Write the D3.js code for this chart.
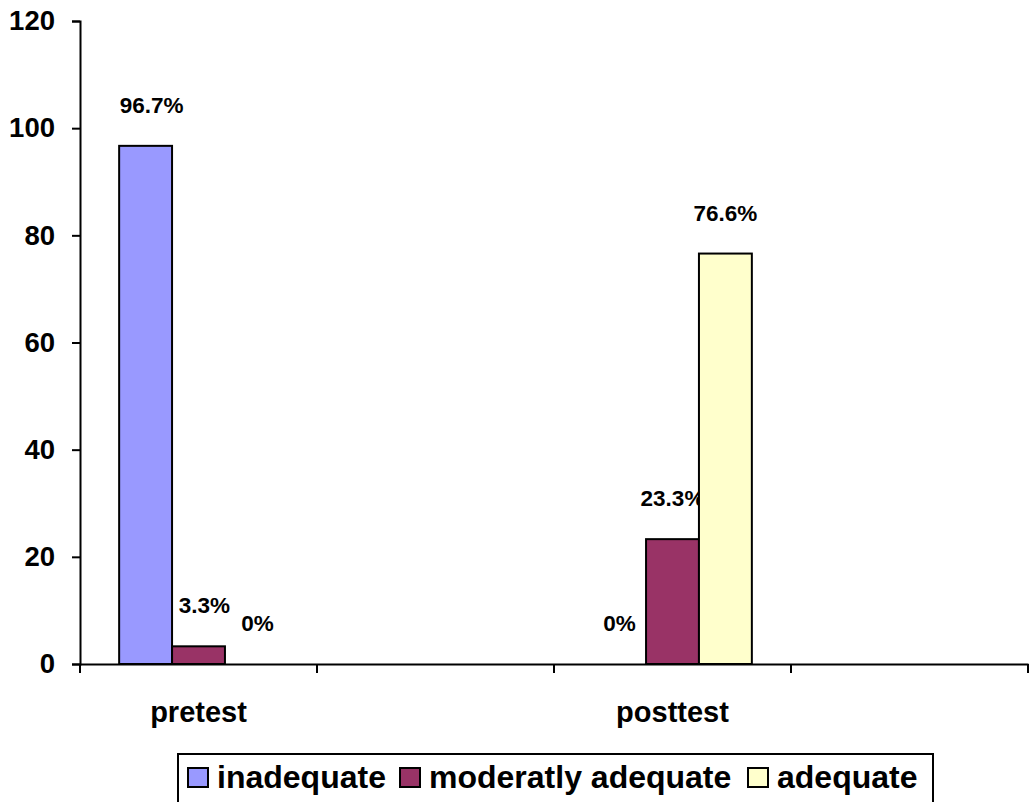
<!DOCTYPE html>
<html>
<head>
<meta charset="utf-8">
<script src="https://cdn.jsdelivr.net/npm/d3@7"></script>
<style>
  html, body { margin: 0; padding: 0; background: #fff; }
  svg { display: block; font-family: "Liberation Sans", Arial, sans-serif; font-weight: bold; }
</style>
</head>
<body>
<svg id="chart" width="1029" height="802"></svg>
<script>
// ---- data ----
const categories = ["pretest", "", "posttest", ""];
const seriesNames = ["inadequate", "moderatly adequate", "adequate"];
const inadequate = [96.7, null, 0, null];
const moderatlyAdequate = [3.3, null, 23.3, null];
const adequate = [0, null, 76.6, null];
const dataLabels = [["96.7%", "3.3%", "0%"], [], ["0%", "23.3%", "76.6%"], []];
const yTicks = [0, 20, 40, 60, 80, 100, 120];
const colors = ["#9999FF", "#993366", "#FFFFCC"];

const seriesValues = [inadequate, moderatlyAdequate, adequate];

const svg = d3.select("#chart");

const x0 = d3.scaleBand().domain(d3.range(categories.length)).range([80, 1028]).paddingInner(0).paddingOuter(0);
const x1 = d3.scaleBand().domain(d3.range(seriesNames.length)).range([0, x0.bandwidth()]).paddingInner(0).paddingOuter(0.74);
const y = d3.scaleLinear().domain([0, 120]).range([664, 21]);

// bars
categories.forEach((c, ci) => {
  seriesValues.forEach((vals, si) => {
    const v = vals[ci];
    if (v === null || v === undefined) return;
    const bx = x0(ci) + x1(si);
    if (v > 0) {
      svg.append("rect")
        .attr("x", bx)
        .attr("y", y(v))
        .attr("width", x1.bandwidth())
        .attr("height", y(0) - y(v))
        .attr("fill", colors[si])
        .attr("stroke", "#000")
        .attr("stroke-width", 2);
    }
    const lbl = dataLabels[ci][si];
    if (lbl) {
      svg.append("text")
        .attr("x", bx + x1.bandwidth() / 2 + (ci === 0 ? 6 : 0))
        .attr("y", y(v) - 33)
        .attr("text-anchor", "middle")
        .attr("font-size", 22.5)
        .attr("fill", "#000")
        .text(lbl);
    }
  });
});

// y axis
const yAxis = d3.axisLeft(y).tickValues(yTicks).tickSize(8).tickPadding(17).tickFormat(d3.format("d"));
const gy = svg.append("g").attr("transform", "translate(80,0)").call(yAxis);
gy.select(".domain").attr("stroke", "#000").attr("stroke-width", 2);
gy.selectAll(".tick line").attr("stroke", "#000").attr("stroke-width", 2);
gy.selectAll(".tick text").attr("font-size", 27.5).attr("font-family", "Liberation Sans, Arial, sans-serif").attr("font-weight", "bold").attr("fill", "#000");

// x axis
const xAxis = d3.axisBottom(x0).tickSize(0).tickFormat(i => categories[i]).tickPadding(37);
const gx = svg.append("g").attr("transform", "translate(0,664)").call(xAxis);
gx.select(".domain").attr("stroke", "#000").attr("stroke-width", 2);
gx.selectAll(".tick text").attr("font-size", 29).attr("font-family", "Liberation Sans, Arial, sans-serif").attr("font-weight", "bold").attr("fill", "#000");
// category boundary ticks
const boundaries = d3.range(categories.length + 1).map(i => i < categories.length ? x0(i) : x0.range()[1]);
gx.selectAll(".bound").data(boundaries).enter().append("line")
  .attr("x1", d => d).attr("x2", d => d)
  .attr("y1", 0).attr("y2", 9)
  .attr("stroke", "#000").attr("stroke-width", 2);

// legend
const lg = svg.append("g");
lg.append("rect").attr("x", 178).attr("y", 754).attr("width", 755).attr("height", 70)
  .attr("fill", "#fff").attr("stroke", "#000").attr("stroke-width", 2);
const legendX = [188, 400, 748];
seriesNames.forEach((name, i) => {
  lg.append("rect").attr("x", legendX[i]).attr("y", 768).attr("width", 20).attr("height", 19)
    .attr("fill", colors[i]).attr("stroke", "#000").attr("stroke-width", 2);
  lg.append("text").attr("x", legendX[i] + 29).attr("y", 788)
    .attr("font-size", 32).attr("fill", "#000").text(name);
});
</script>
</body>
</html>
